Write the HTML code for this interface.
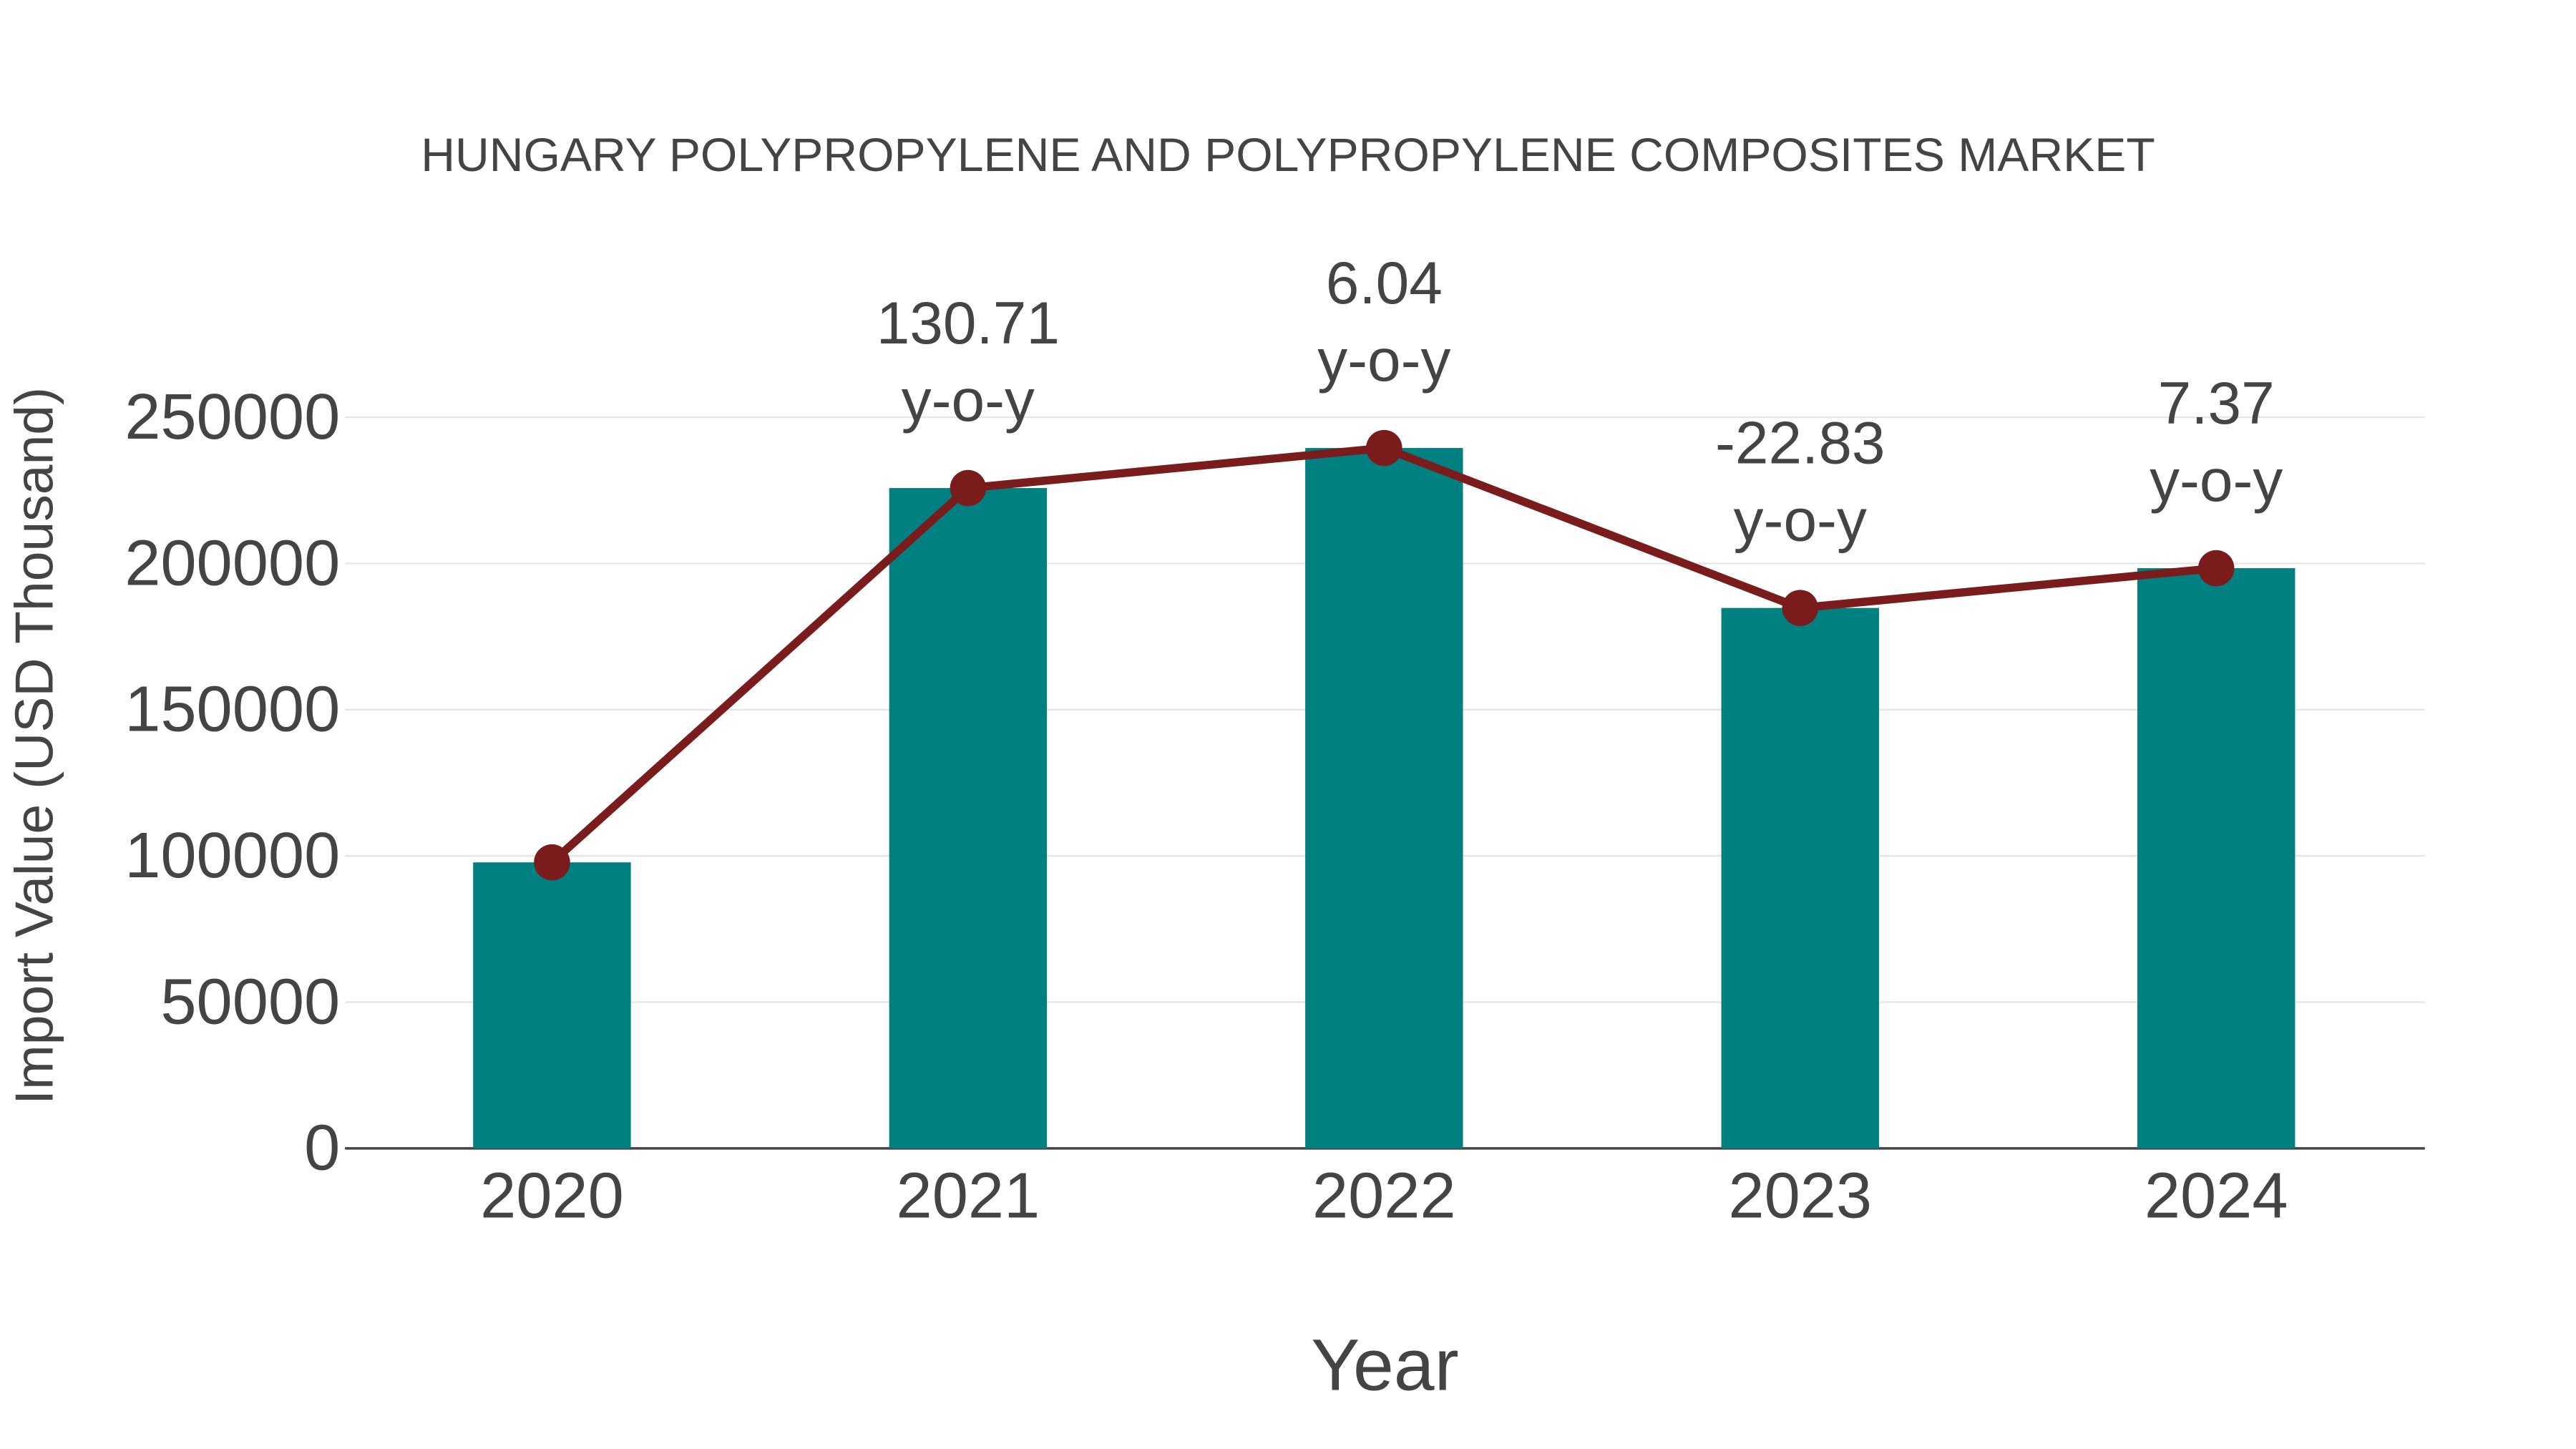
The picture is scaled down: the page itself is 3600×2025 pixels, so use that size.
<!DOCTYPE html>
<html><head><meta charset="utf-8"><style>
html,body{margin:0;padding:0;background:#fff;width:3600px;height:2025px;overflow:hidden}
svg{display:block;font-family:"Liberation Sans",sans-serif}
</style></head><body>
<svg id="chart" width="3600" height="2025" viewBox="0 0 1568 882" xmlns="http://www.w3.org/2000/svg">
<text x="784" y="104" text-anchor="middle" font-size="28.8" fill="#444">HUNGARY POLYPROPYLENE AND POLYPROPYLENE COMPOSITES MARKET</text>
<text x="843" y="846" text-anchor="middle" font-size="44.5" fill="#444">Year</text>
<text transform="translate(32,454) rotate(-90)" text-anchor="middle" font-size="32.7" fill="#444">Import Value (USD Thousand)</text>
<g id="grid"></g><g id="bars"></g><g id="line"></g><g id="labels"></g>
</svg>
<script>
const categories = ["2020","2021","2022","2023","2024"];
const values = [97800, 225800, 239500, 184800, 198400];
const yoyLabels = ["", "130.71", "6.04", "-22.83", "7.37"];
const yTicks = [0, 50000, 100000, 150000, 200000, 250000];

const NS = "http://www.w3.org/2000/svg";
const plotL = 210, plotR = 1476, y0 = 699, yTop = 254;
function yScale(v){ return y0 - (v / 250000) * (y0 - yTop); }
function xScale(i){ return 336 + i * 253.25; }
function mk(tag, attrs, parent){ const e = document.createElementNS(NS, tag); for (const k in attrs) e.setAttribute(k, attrs[k]); parent.appendChild(e); return e; }

const grid = document.getElementById('grid');
yTicks.forEach(t => {
  const y = yScale(t);
  const gl = mk('line', {x1: plotL, x2: plotR, y1: y, y2: y, stroke: t === 0 ? '#444' : '#e5e5e5', 'stroke-width': t === 0 ? 1.5 : 1}, grid);
  
  
  const tl = mk('text', {x: 207, y: y + 13, 'text-anchor': 'end', 'font-size': 39.3, fill: '#444'}, grid);
  tl.textContent = t;
  
  
});

const bars = document.getElementById('bars');
const labels = document.getElementById('labels');
categories.forEach((c, i) => {
  const x = xScale(i), y = yScale(values[i]);
  const r = mk('rect', {x: x - 48, y: y, width: 96, height: y0 - y, fill: '#008080'}, bars);
  
  
  const xl = mk('text', {x: x, y: 741, 'text-anchor': 'middle', 'font-size': 39.3, fill: '#444'}, labels);
  xl.textContent = c;
  
  
  if (yoyLabels[i]) {
    const a = mk('text', {x: x, y: y - 88, 'text-anchor': 'middle', 'font-size': 36.5, fill: '#444'}, labels);
    a.textContent = yoyLabels[i];
    
    
    const b = mk('text', {x: x, y: y - 41, 'text-anchor': 'middle', 'font-size': 36.5, fill: '#444'}, labels);
    b.textContent = 'y-o-y';
    
    
  }
});

const line = document.getElementById('line');
const pts = values.map((v, i) => xScale(i) + ',' + yScale(v)).join(' ');
const pl = mk('polyline', {points: pts, fill: 'none', stroke: '#7a1c1c', 'stroke-width': 5}, line);


values.forEach((v, i) => {
  const p = mk('circle', {cx: xScale(i), cy: yScale(v), r: 11, fill: '#7a1c1c'}, line);
  
  
});
</script>
</body></html>
